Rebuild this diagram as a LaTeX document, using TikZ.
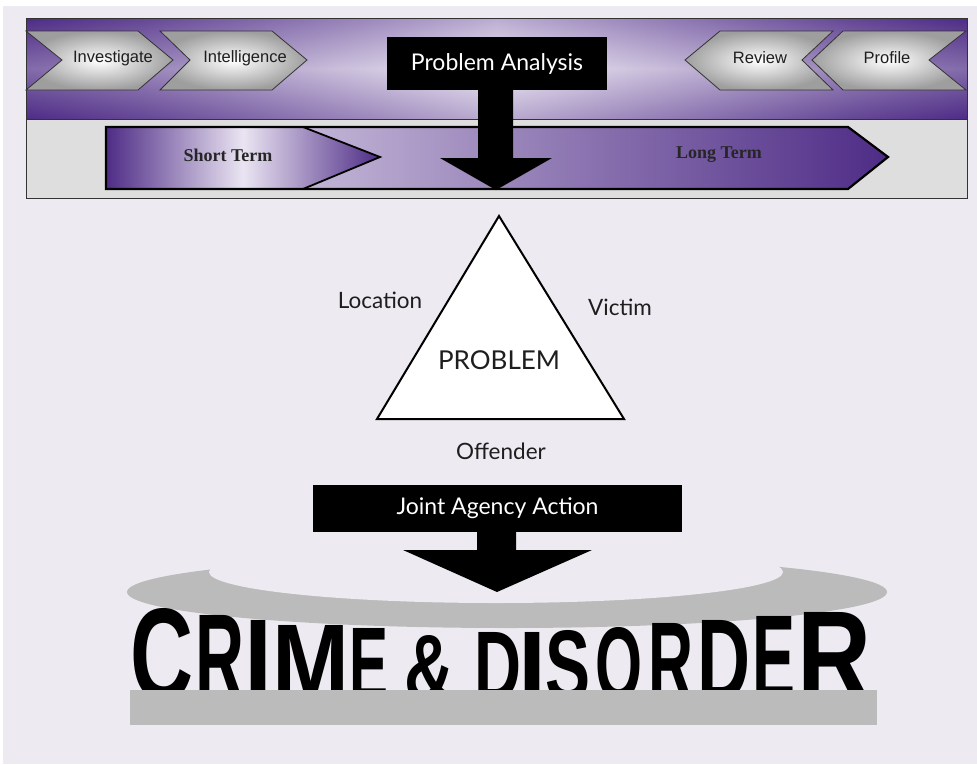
\documentclass[tikz,border=0pt]{standalone}
\usepackage{fontspec}
\setmainfont{Liberation Sans}
\newfontfamily\latof{Lato}
\newfontfamily\serifb{Liberation Serif}
\usepackage{graphicx}
\definecolor{bgl}{RGB}{238,234,241}
\definecolor{purpD}{RGB}{78,44,134}
\definecolor{purpL}{RGB}{234,228,242}
\definecolor{bandg}{RGB}{222,222,222}
\definecolor{ellg}{RGB}{187,187,187}
\definecolor{txtd}{RGB}{30,30,30}
\pgfdeclarehorizontalshading{bandsh}{100bp}{color(0bp)=(purpD); color(25bp)=(purpD); color(31bp)=(purpD!80!purpL); color(50bp)=(purpL); color(69bp)=(purpD!80!purpL); color(75bp)=(purpD); color(100bp)=(purpD)}
\tikzset{
  chev/.style={draw=black!80,line width=0.8pt,inner color=white,outer color=black!38},
  chevtxt/.style={inner sep=0,font=\fontsize{16.5}{18}\selectfont,text=txtd},
  blackbox/.style={fill=black,draw=none,text=white,inner sep=0,font=\latof\fontsize{23}{26}\selectfont},
  lbl/.style={inner sep=0,text=txtd,font=\latof\fontsize{22.5}{26}\selectfont},
  termtxt/.style={inner sep=0,text=black!85,font=\serifb\bfseries\fontsize{18}{20}\selectfont},
}
\newcommand\crl[5]{\node[inner sep=0,anchor=base] (#1) at (#2,700) {\resizebox{#3pt}{#4pt}{\bfseries #5}};}
\begin{document}
\begin{tikzpicture}[x=1pt,y=-1pt]
\useasboundingbox (0,0) rectangle (977,764);
\fill[white] (0,0) rectangle (977,764);
\fill[bgl] (3,6) rectangle (977,764);
% top box
\shade[shading=bandsh] (26,18) rectangle (967,119);
\shade[top color=purpD,bottom color=purpD,middle color=white,opacity=0.3] (26,18) rectangle (967,119);
\fill[bandg] (26,119) rectangle (967,198);
\draw[black!80,line width=0.8pt] (26,119) -- (967,119);
\draw[black!80,line width=1pt] (26,18) rectangle (967,198);
% chevrons
\draw[chev] (26,31) -- (138,31) -- (173,60) -- (138,90) -- (26,90) -- (62,60) -- cycle;
\draw[chev] (160,31) -- (272,31) -- (307,60) -- (272,90) -- (160,90) -- (190,60) -- cycle;
\draw[chev] (685,60) -- (720,31) -- (833,31) -- (802,60) -- (833,90) -- (720,90) -- cycle;
\draw[chev] (812,60) -- (843,31) -- (966,31) -- (929,60) -- (966,90) -- (843,90) -- cycle;
\node[chevtxt] (inv) at (113,58) {Investigate};
\node[chevtxt] (int) at (245,58) {Intelligence};
\node[chevtxt] (rev) at (760,58) {Review};
\node[chevtxt] (pro) at (887,58) {Profile};
% term arrow
\shade[left color=purpL,right color=purpD] (106,127) -- (848,127) -- (888,157) -- (848,189) -- (106,189) -- cycle;
\shade[left color=purpD,right color=purpD,middle color=purpL] (106,127) -- (303,127) -- (380,157) -- (303,189) -- (106,189) -- cycle;
\draw[black,line width=2.2pt,line join=miter] (106,127) -- (848,127) -- (888,157) -- (848,189) -- (106,189) -- cycle;
\draw[black,line width=1.8pt] (303,127) -- (380,157) -- (303,189);
\node[termtxt] (st) at (228,155) {Short Term};
\node[termtxt] (lt) at (719,155) {Long Term};
% problem analysis
\node[blackbox,minimum width=220pt,minimum height=53pt] (pa) at (497,63.5) {Problem Analysis};
\fill[black] (478,90) -- (478,158) -- (440,158) -- (496,190) -- (552,158) -- (513,158) -- (513,90) -- cycle;
% triangle
\draw[black,fill=white,line width=2pt,line join=miter] (499,216) -- (624,419) -- (377,419) -- cycle;
\node[lbl,font=\latof\fontsize{26}{30}\selectfont] (prob) at (499,360) {PROBLEM};
\node[lbl] (loc) at (380,300) {Location};
\node[lbl] (vic) at (620,307) {Victim};
\node[lbl] (off) at (501,451) {Offender};
% joint agency
\node[blackbox,minimum width=369pt,minimum height=47pt] (ja) at (497.5,508.5) {Joint Agency Action};
% ellipse
\fill[ellg] (507,592) ellipse [x radius=380,y radius=36];
\fill[bgl] (496,572) ellipse [x radius=287,y radius=31];
\fill[black] (477,532) -- (477,550) -- (403,550) -- (497,592) -- (592,550) -- (516,550) -- (516,532) -- cycle;
% crime & disorder
\crl{l1}{162.5}{63}{92}{C}
\crl{l2}{220}{49}{85}{R}
\crl{l3}{259}{28}{80}{I}
\crl{l4}{311}{77}{75}{M}
\crl{l5}{369}{39}{72}{E}
\crl{l6}{430}{50}{65}{\&}
\crl{l7}{498}{47}{68}{D}
\crl{l8}{532}{28}{68}{I}
\crl{l9}{568}{45}{70}{S}
\crl{l10}{619}{47}{73}{O}
\crl{l11}{671}{45}{77}{R}
\crl{l12}{724}{53}{80}{D}
\crl{l13}{773.5}{43}{84}{E}
\crl{l14}{835}{74}{88}{R}
\fill[ellg] (130,690) rectangle (877,725);
\end{tikzpicture}
\end{document}
